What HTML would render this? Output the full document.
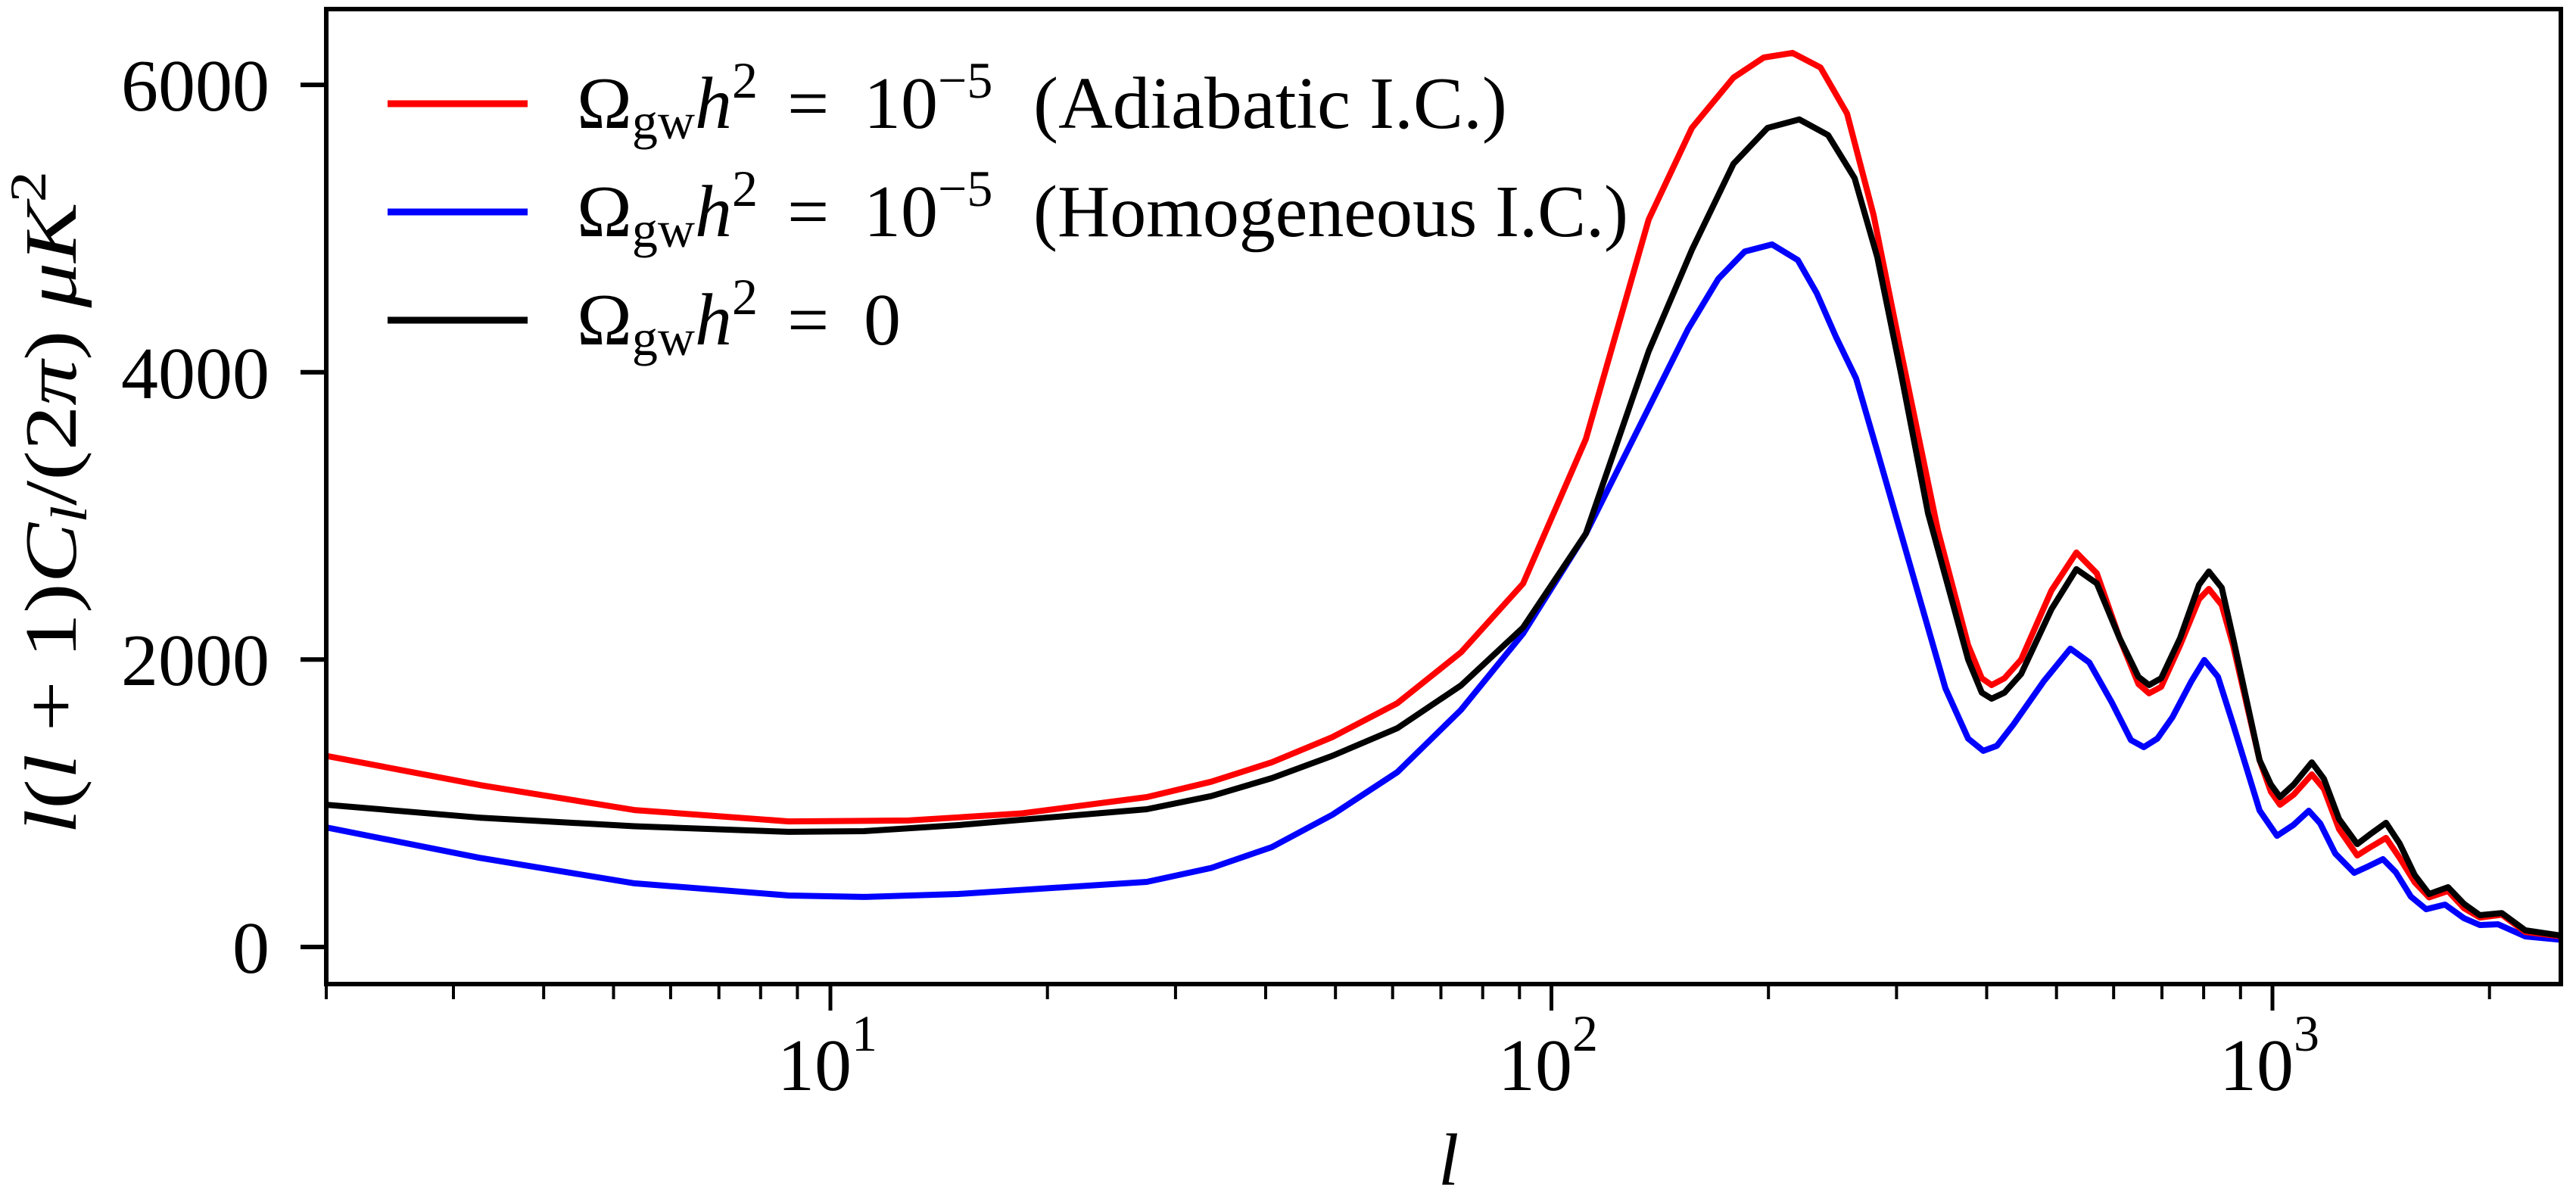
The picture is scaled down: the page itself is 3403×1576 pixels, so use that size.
<!DOCTYPE html>
<html><head><meta charset="utf-8"><style>
html,body{margin:0;padding:0;background:#fff;}
svg{display:block;}
text{font-family:"Liberation Serif","DejaVu Serif",serif;fill:#000;}
</style></head><body>
<svg width="3403" height="1576" viewBox="0 0 3403 1576" xmlns="http://www.w3.org/2000/svg">
<defs><clipPath id="c"><rect x="431" y="12" width="2952" height="1288"/></clipPath></defs>
<rect width="3403" height="1576" fill="#fff"/>
<g clip-path="url(#c)" fill="none" stroke-width="8" stroke-linejoin="round" stroke-linecap="round">
<polyline stroke="#0000ff" points="431,1093.1 634,1133.3 838,1166.9 1042,1183 1141,1184.9 1266,1181 1515,1165 1600,1146.6 1680,1119.1 1760,1076.4 1846,1020 1930,937.8 2012,837 2095,704.9 2178,538.9 2230,434.7 2270,368.3 2305,332.2 2341,322.9 2375,343.6 2400,387.3 2425,444.2 2452,500 2480,596.1 2511,703.9 2570,909.3 2600,975.7 2620,991.9 2638,985.2 2660,956.8 2700,899.8 2735,856.9 2760,875.1 2790,928.3 2815,977.6 2832,987 2850,975.7 2870,947.3 2895,899.8 2912,871.9 2930,894.1 2950,956.8 2985,1070.7 3008,1104.1 3030,1089.6 3050,1071 3065,1087.7 3085,1127.6 3110,1153 3128,1144.7 3148,1135 3165,1152.3 3185,1184.6 3205,1201.1 3230,1195 3255,1213 3276,1222 3300,1221 3336,1237 3390,1242.1"/>
<polyline stroke="#ff0000" points="431,998.5 634,1037.1 838,1070.1 1042,1085.1 1200,1083.9 1350,1074.5 1515,1053 1600,1032.7 1680,1007.1 1760,973.8 1846,928.9 1930,861.8 2012,771 2095,580 2178,289.9 2235,169 2290,102.5 2330,76 2368,69.9 2405,89.2 2440,150 2475,283.9 2511,463.2 2560,700.5 2600,852.4 2618,896 2631,905 2648,896 2670,871.3 2710,780.2 2743,729.9 2770,757.4 2800,842.9 2825,903.6 2839,915.9 2855,907.4 2880,852.4 2905,791.6 2918,778 2935,799.2 2950,852.4 2985,1004.2 3000,1046 3012,1063.1 3030,1049.8 3054,1023 3070,1042.2 3090,1095.3 3114,1130.1 3130,1120 3152,1106.9 3170,1133.3 3190,1165.6 3209,1185.5 3234,1177 3255,1199.7 3276,1212.1 3305,1208.3 3336,1231.1 3390,1237.7"/>
<polyline stroke="#000" points="431,1063.1 634,1080.2 838,1091.5 1042,1098.9 1141,1098 1266,1090 1515,1069 1600,1051.7 1680,1028 1760,998.5 1846,961.9 1930,905.5 2012,829 2095,704.9 2178,464 2235,330.3 2290,216.4 2335,169 2377,157.8 2415,178.5 2450,235.4 2480,339.8 2511,491.7 2547,677.9 2600,871.3 2618,915 2631,923 2648,915 2670,890.3 2710,804.9 2743,751.9 2770,770.7 2800,842.9 2825,894.1 2839,905 2855,896 2880,842.9 2905,772.6 2918,755 2935,776.4 2950,842.9 2985,1004.2 3000,1036.5 3012,1053 3030,1036.5 3054,1007.1 3070,1028.9 3090,1082 3114,1115.1 3130,1102.9 3152,1087 3170,1114.3 3190,1156.1 3209,1181 3234,1172 3255,1194 3276,1209 3305,1206.2 3336,1229 3390,1237"/>
</g>
<rect x="431" y="12" width="2952" height="1288" fill="none" stroke="#000" stroke-width="6"/>
<g stroke="#000" stroke-width="4">
<line x1="431" y1="1300" x2="431" y2="1320"/><line x1="599" y1="1300" x2="599" y2="1320"/><line x1="718.2" y1="1300" x2="718.2" y2="1320"/><line x1="810.5" y1="1300" x2="810.5" y2="1320"/><line x1="885.9" y1="1300" x2="885.9" y2="1320"/><line x1="949.7" y1="1300" x2="949.7" y2="1320"/><line x1="1004.8" y1="1300" x2="1004.8" y2="1320"/><line x1="1053.4" y1="1300" x2="1053.4" y2="1320"/>
<line x1="1383.7" y1="1300" x2="1383.7" y2="1320"/><line x1="1552.9" y1="1300" x2="1552.9" y2="1320"/><line x1="1672" y1="1300" x2="1672" y2="1320"/><line x1="1764.2" y1="1300" x2="1764.2" y2="1320"/><line x1="1839.7" y1="1300" x2="1839.7" y2="1320"/><line x1="1903.5" y1="1300" x2="1903.5" y2="1320"/><line x1="1958.7" y1="1300" x2="1958.7" y2="1320"/><line x1="2007.3" y1="1300" x2="2007.3" y2="1320"/>
<line x1="2336.2" y1="1300" x2="2336.2" y2="1320"/><line x1="2505.4" y1="1300" x2="2505.4" y2="1320"/><line x1="2624.5" y1="1300" x2="2624.5" y2="1320"/><line x1="2716.7" y1="1300" x2="2716.7" y2="1320"/><line x1="2792.2" y1="1300" x2="2792.2" y2="1320"/><line x1="2856" y1="1300" x2="2856" y2="1320"/><line x1="2911.1" y1="1300" x2="2911.1" y2="1320"/><line x1="2959.8" y1="1300" x2="2959.8" y2="1320"/>
<line x1="3288.7" y1="1300" x2="3288.7" y2="1320"/>
</g>
<g stroke="#000" stroke-width="5">
<line x1="1097" y1="1300" x2="1097" y2="1335"/><line x1="2049.5" y1="1300" x2="2049.5" y2="1335"/><line x1="3002" y1="1300" x2="3002" y2="1335"/>
</g>
<g stroke="#000" stroke-width="6">
<line x1="397" y1="1251" x2="431" y2="1251"/><line x1="397" y1="871.3" x2="431" y2="871.3"/><line x1="397" y1="491.7" x2="431" y2="491.7"/><line x1="397" y1="112.1" x2="431" y2="112.1"/>
</g>
<g font-size="98" text-anchor="end">
<text x="356" y="146">6000</text>
<text x="356" y="526">4000</text>
<text x="356" y="905">2000</text>
<text x="356" y="1285">0</text>
</g>
<g font-size="98">
<text x="1027" y="1440">10<tspan font-size="68" dy="-52">1</tspan></text>
<text x="1979" y="1440">10<tspan font-size="68" dy="-52">2</tspan></text>
<text x="2932" y="1440">10<tspan font-size="68" dy="-52">3</tspan></text>
<text x="1900" y="1565" font-style="italic">l</text>
</g>
<text transform="translate(100,1102) rotate(-90)" font-size="98" textLength="876" lengthAdjust="spacingAndGlyphs"><tspan font-style="italic">l</tspan>(<tspan font-style="italic">l</tspan> + 1)<tspan font-style="italic">C</tspan><tspan font-style="italic" font-size="68" dy="14">l</tspan><tspan dy="-14">/(2</tspan><tspan font-style="italic">π</tspan>) <tspan font-style="italic">μK</tspan><tspan font-size="68" dy="-40">2</tspan></text>
<g stroke-width="9">
<line x1="512" y1="137" x2="697" y2="137" stroke="#ff0000"/>
<line x1="512" y1="280" x2="697" y2="280" stroke="#0000ff"/>
<line x1="512" y1="423" x2="697" y2="423" stroke="#000"/>
</g>
<g font-size="98">
<text x="762" y="169">Ω<tspan font-size="68" dy="14">gw</tspan><tspan font-style="italic" dy="-14">h</tspan><tspan font-size="68" dy="-40">2</tspan></text>
<text x="1040" y="169">=</text>
<text x="1141" y="169">10<tspan font-size="68" dy="-40">−5</tspan></text>
<text x="1365" y="169" textLength="626" lengthAdjust="spacingAndGlyphs">(Adiabatic I.C.)</text>
<text x="762" y="312">Ω<tspan font-size="68" dy="14">gw</tspan><tspan font-style="italic" dy="-14">h</tspan><tspan font-size="68" dy="-40">2</tspan></text>
<text x="1040" y="312">=</text>
<text x="1141" y="312">10<tspan font-size="68" dy="-40">−5</tspan></text>
<text x="1365" y="312" textLength="786" lengthAdjust="spacingAndGlyphs">(Homogeneous I.C.)</text>
<text x="762" y="455">Ω<tspan font-size="68" dy="14">gw</tspan><tspan font-style="italic" dy="-14">h</tspan><tspan font-size="68" dy="-40">2</tspan></text>
<text x="1040" y="455">=</text>
<text x="1141" y="455">0</text>
</g>
</svg>
</body></html>
